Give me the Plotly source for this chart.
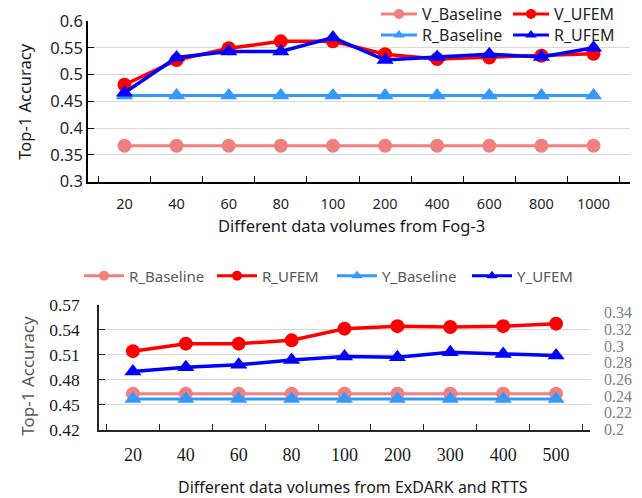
import plotly.graph_objects as go

# ---------------- data ----------------
fog_volumes = ["20", "40", "60", "80", "100", "200", "400", "600", "800", "1000"]
v_baseline = [0.367] * 10
v_ufem = [0.481, 0.527, 0.549, 0.562, 0.562, 0.538, 0.529, 0.532, 0.535, 0.539]
r_baseline_fog = [0.461] * 10
r_ufem_fog = [0.466, 0.532, 0.543, 0.543, 0.569, 0.527, 0.533, 0.538, 0.533, 0.550]

ex_volumes = ["20", "40", "60", "80", "100", "200", "300", "400", "500"]
r_baseline_ex = [0.463] * 9
r_ufem_ex = [0.514, 0.523, 0.523, 0.527, 0.541, 0.544, 0.543, 0.544, 0.547]
y_baseline = [0.2366] * 9          # right axis
y_ufem = [0.2696, 0.2748, 0.2776, 0.2835, 0.2875, 0.2868, 0.2927, 0.2907, 0.2887]  # right axis

top_yticks = [0.3, 0.35, 0.4, 0.45, 0.5, 0.55, 0.6]
bot_yticks = [0.42, 0.45, 0.48, 0.51, 0.54, 0.57]
right_yticks = [0.2, 0.22, 0.24, 0.26, 0.28, 0.3, 0.32, 0.34]
right_ytick_labels = ["0.2", "0.22", "0.24", "0.26", "0.28", "0.3", "0.32", "0.34"]

# ---------------- styles ----------------
PINK = "#F08080"
RED = "#FF0000"
LBLUE = "#3399FF"
BLUE = "#0000FF"
W, H = 642, 498
SANS = "Noto Sans"
SERIF = "Liberation Serif"


def px(x):
    return x / W


def py(y):
    return 1 - y / H


fig = go.Figure()


def add(x, y, name, color, symbol, xa, ya, legend, lw=3.5):
    ms = 15 if symbol.startswith("triangle") else 14
    # data trace
    fig.add_trace(go.Scatter(
        x=x, y=y, name=name, mode="lines+markers",
        line=dict(color=color, width=lw),
        marker=dict(color=color, symbol=symbol, size=ms),
        xaxis=xa, yaxis=ya, showlegend=False,
    ))
    # legend key (smaller marker, as in the reference legend)
    fig.add_trace(go.Scatter(
        x=[None], y=[None], name=name, mode="lines+markers",
        line=dict(color=color, width=3),
        marker=dict(color=color, symbol=symbol, size=10),
        xaxis=xa, yaxis=ya, legend=legend, showlegend=True, hoverinfo="skip",
    ))


# top chart
add(fog_volumes, v_baseline, "V_Baseline", PINK, "circle", "x", "y", "legend", lw=3)
add(fog_volumes, v_ufem, "V_UFEM", RED, "circle", "x", "y", "legend2")
add(fog_volumes, r_baseline_fog, "R_Baseline", LBLUE, "triangle-up", "x", "y", "legend3", lw=3)
add(fog_volumes, r_ufem_fog, "R_UFEM", BLUE, "triangle-up", "x", "y", "legend4")

# bottom chart
add(ex_volumes, r_baseline_ex, "R_Baseline", PINK, "circle", "x2", "y2", "legend5", lw=3)
add(ex_volumes, r_ufem_ex, "R_UFEM", RED, "circle", "x2", "y2", "legend6")
add(ex_volumes, y_baseline, "Y_Baseline", LBLUE, "triangle-up", "x2", "y3", "legend7", lw=3)
add(ex_volumes, y_ufem, "Y_UFEM", BLUE, "triangle-up", "x2", "y3", "legend8")

top_font = dict(family=SANS, size=16, color="#262626")
bot_leg_font = dict(family=SANS, size=15, color="#595959")


def leg(x, y, font, iw):
    return dict(x=px(x), y=py(y), xanchor="left", yanchor="middle",
                bgcolor="rgba(0,0,0,0)", borderwidth=0, font=font,
                itemsizing="trace", itemwidth=iw, orientation="v")


layout = dict(
    width=W, height=H,
    margin=dict(l=0, r=0, t=0, b=0, autoexpand=False),
    paper_bgcolor="white", plot_bgcolor="white",
    xaxis=dict(domain=[px(88), px(630)], anchor="y", type="category",
               showline=True, linecolor="black", linewidth=1.5,
               ticks="inside", tickson="boundaries", ticklen=6, tickcolor="black",
               tickfont=dict(family=SANS, size=14.5, color="#262626"),
               showgrid=False, ticklabelstandoff=8),
    yaxis=dict(domain=[py(181.7), py(21)], anchor="x", range=[0.3, 0.6],
               tickvals=top_yticks,
               showline=True, linecolor="black", linewidth=1.5,
               ticks="inside", ticklen=6, tickcolor="black",
               tickfont=dict(family=SANS, size=16.5, color="#262626"),
               showgrid=True, gridcolor="#D9D9D9", gridwidth=1.2, zeroline=False),
    xaxis2=dict(domain=[px(99), px(590)], anchor="y2", type="category",
                showline=True, linecolor="#262626", linewidth=1.5,
                ticks="inside", tickson="boundaries", ticklen=6, tickcolor="#262626",
                tickfont=dict(family=SERIF, size=18, color="#1a1a1a"),
                showgrid=False, ticklabelstandoff=8),
    yaxis2=dict(domain=[py(429.5), py(304.5)], anchor="x2", range=[0.42, 0.57],
                tickvals=bot_yticks,
                showline=True, linecolor="#262626", linewidth=1.5,
                ticks="inside", ticklen=6, tickcolor="#262626",
                tickfont=dict(family=SERIF, size=17.5, color="#1a1a1a"),
                ticklabelstandoff=14,
                showgrid=True, gridcolor="#D9D9D9", gridwidth=1.2, zeroline=False),
    yaxis3=dict(overlaying="y2", side="right", anchor="x2", range=[0.2, 0.35],
                tickvals=right_yticks, ticktext=right_ytick_labels,
                showline=False, ticks="",
                tickfont=dict(family=SERIF, size=16, color="#7F7F7F"),
                ticklabelstandoff=13,
                showgrid=False, zeroline=False),
    legend=leg(376, 14, top_font, 36),
    legend2=leg(508, 14, top_font, 36),
    legend3=leg(376, 35, top_font, 36),
    legend4=leg(508, 35, top_font, 36),
    legend5=leg(79, 276, bot_leg_font, 40),
    legend6=leg(212, 276, bot_leg_font, 40),
    legend7=leg(332, 276, bot_leg_font, 40),
    legend8=leg(467, 276, bot_leg_font, 40),
    annotations=[
        dict(text="Different data volumes from Fog-3", x=px(352), y=py(225),
             xref="paper", yref="paper", showarrow=False,
             font=dict(family=SANS, size=16.5, color="#1a1a1a"),
             xanchor="center", yanchor="middle"),
        dict(text="Top-1 Accuracy", x=px(25), y=py(101.7), textangle=-90,
             xref="paper", yref="paper", showarrow=False,
             font=dict(family=SANS, size=16.5, color="#1a1a1a"),
             xanchor="center", yanchor="middle"),
        dict(text="Different data volumes from ExDARK and RTTS", x=px(353), y=py(486.5),
             xref="paper", yref="paper", showarrow=False,
             font=dict(family=SANS, size=16, color="#1a1a1a"),
             xanchor="center", yanchor="middle"),
        dict(text="Top-1 Accuracy", x=px(28), y=py(375.7), textangle=-90,
             xref="paper", yref="paper", showarrow=False,
             font=dict(family=SANS, size=17, color="#595959"),
             xanchor="center", yanchor="middle"),
    ],
)
fig.update_layout(**layout)
fig.write_html("out.html", config={"displayModeBar": False},
               post_script="document.body.style.margin='0';")
